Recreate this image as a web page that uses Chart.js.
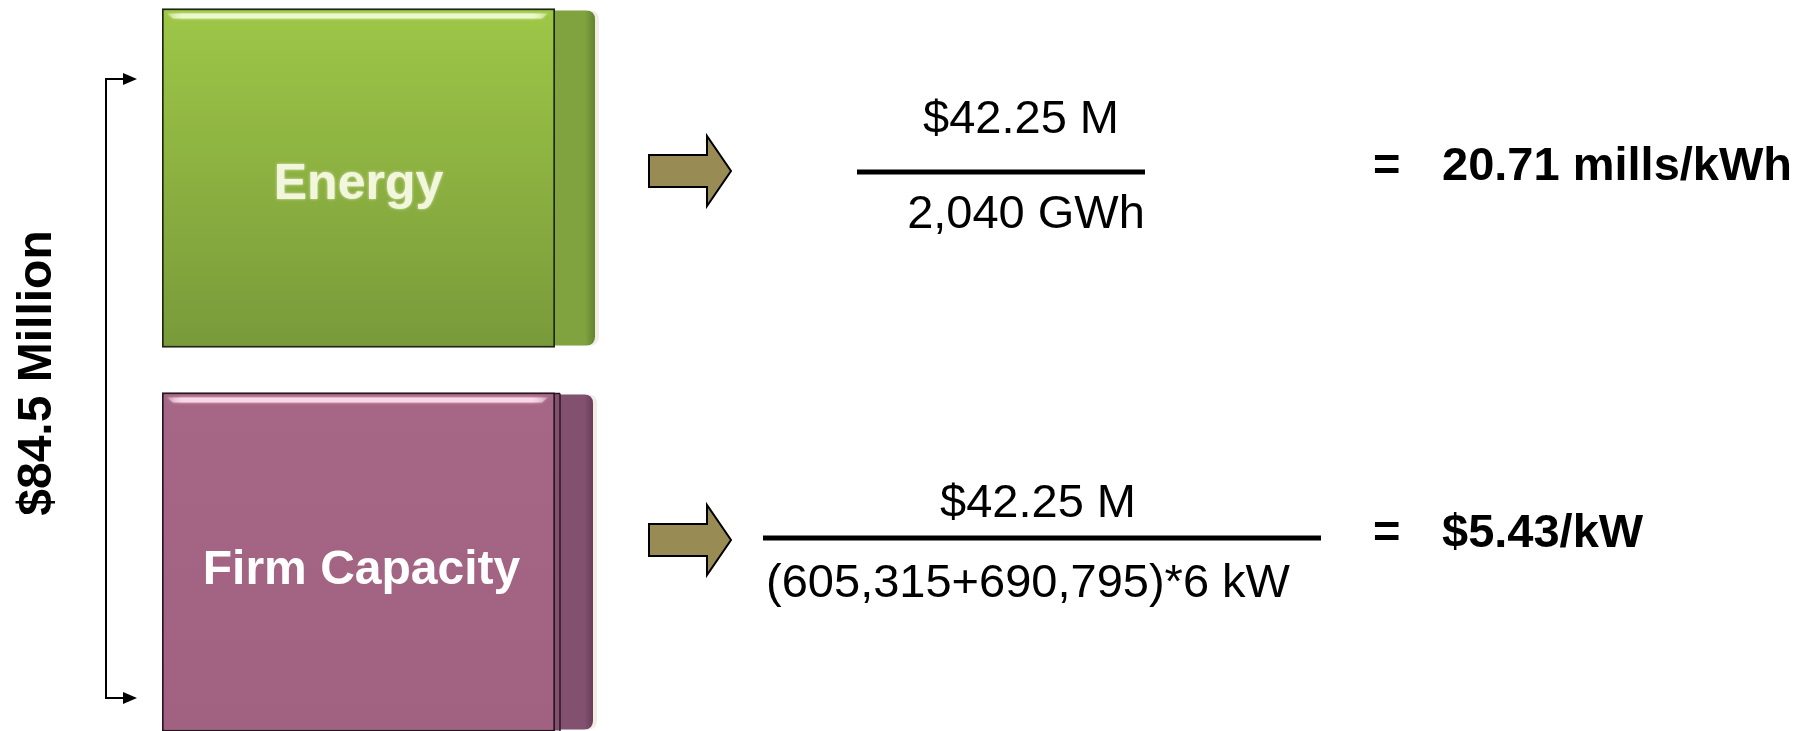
<!DOCTYPE html>
<html>
<head>
<meta charset="utf-8">
<script src="https://cdn.jsdelivr.net/npm/chart.js@4/dist/chart.umd.min.js"></script>
<style>
  html, body { margin: 0; padding: 0; background: #ffffff; overflow: hidden; width: 1812px; height: 731px; }
  #wrap { position: absolute; left: 0; top: -14px; width: 1812px; height: 768px; }
</style>
</head>
<body>
<div id="wrap"><canvas id="c"></canvas></div>
<script>
// Revenue requirement split into its two cost components
const categories = ['Energy', 'Firm Capacity'];
const costMillions = [42.25, 42.25];
const totalMillions = 84.5;

// Billing determinants
const energyGWh = 2040;
const peakKW = [605315, 690795];
const months = 6;

// Resulting unit rates
const unitRates = [20.71, 5.43];

// Text built from the values above
const totalLabel = '$' + totalMillions + ' Million';
const numeratorLabels = costMillions.map(v => '$' + v.toFixed(2) + ' M');
const denominatorLabels = [
  energyGWh.toLocaleString('en-US') + ' GWh',
  '(' + peakKW.map(v => v.toLocaleString('en-US')).join('+') + ')*' + months + ' kW'
];
const resultLabels = [
  unitRates[0].toFixed(2) + ' mills/kWh',
  '$' + unitRates[1].toFixed(2) + '/kW'
];

const SHIFT = 14; // the canvas starts 14px above the page top
const FONT = '"Liberation Sans", Arial, Helvetica, sans-serif';

const boxStyle = [
  { top: '#9ec747', bottom: '#799a3a', sideL: '#80a340', sideR: '#62832d', edge: '#1d2810',
    gloss: '236,249,204', text: '#f2f6dc', depth: 40, doubleEdge: false, textDx: 0, textDy: 21, size: 50 },
  { top: '#a66787', bottom: '#a16181', sideL: '#82516f', sideR: '#6a3c59', edge: '#2a1622',
    gloss: '250,214,232', text: '#ffffff', depth: 38, doubleEdge: true, textDx: 3, textDy: 22, size: 48 }
];

// Page positions for the arrows, fractions and results of each row
const rowLayout = [
  { arrowY: 171, lineX: [857, 1145], lineY: 172, numX: 1021, numY: 133, denX: 1026, denY: 228, resY: 180 },
  { arrowY: 540, lineX: [763, 1321], lineY: 538, numX: 1038, numY: 517, denX: 1028, denY: 597, resY: 547 }
];
const eqX = 1373, resX = 1442;

function frontFill(ctx) {
  const chart = ctx.chart;
  const s = boxStyle[ctx.dataIndex];
  if (!chart.chartArea || !chart.scales.y) return s.bottom;
  const y = chart.scales.y.getPixelForTick(ctx.dataIndex);
  const h = 170;
  const g = chart.ctx.createLinearGradient(0, y - h, 0, y + h);
  g.addColorStop(0, s.top);
  g.addColorStop(1, s.bottom);
  return g;
}

const boxDecor = {
  id: 'boxDecor',
  beforeDatasetsDraw(chart) {
    const ctx = chart.ctx;
    const meta = chart.getDatasetMeta(0);
    meta.data.forEach((el, i) => {
      const s = boxStyle[i];
      const x0 = el.x + (s.doubleEdge ? 5 : 0);
      const x1 = el.x + s.depth;
      const top = el.y - el.height / 2 + 2;
      const bot = el.y + el.height / 2 - 2;
      const r = 9;
      const path = (dx) => {
        ctx.beginPath();
        ctx.moveTo(x0 + dx, top);
        ctx.lineTo(x1 + dx - r, top);
        ctx.quadraticCurveTo(x1 + dx, top, x1 + dx, top + r);
        ctx.lineTo(x1 + dx, bot - r);
        ctx.quadraticCurveTo(x1 + dx, bot, x1 + dx - r, bot);
        ctx.lineTo(x0 + dx, bot);
        ctx.closePath();
      };
      ctx.save();
      // soft drop shadow behind the side face
      path(4);
      ctx.fillStyle = 'rgba(214,204,180,0.35)';
      ctx.fill();
      path(0);
      const g = ctx.createLinearGradient(x0, 0, x1, 0);
      g.addColorStop(0, s.sideL);
      g.addColorStop(0.75, s.sideL);
      g.addColorStop(1, s.sideR);
      ctx.fillStyle = g;
      ctx.fill();
      ctx.restore();
    });
  },
  afterDatasetsDraw(chart) {
    const ctx = chart.ctx;
    const meta = chart.getDatasetMeta(0);
    meta.data.forEach((el, i) => {
      const s = boxStyle[i];
      const top = el.y - el.height / 2;
      ctx.save();
      // glossy strip along the top edge
      const gx0 = el.base + 5, gx1 = el.x - 7;
      const gg = ctx.createLinearGradient(gx0, 0, gx1, 0);
      gg.addColorStop(0, 'rgba(' + s.gloss + ',0.3)');
      gg.addColorStop(0.04, 'rgba(' + s.gloss + ',1)');
      gg.addColorStop(0.96, 'rgba(' + s.gloss + ',1)');
      gg.addColorStop(1, 'rgba(' + s.gloss + ',0.3)');
      ctx.fillStyle = gg;
      ctx.shadowColor = 'rgba(' + s.gloss + ',0.8)';
      ctx.shadowBlur = 3;
      ctx.beginPath();
      ctx.moveTo(gx0, top + 5);
      ctx.lineTo(gx1, top + 5);
      ctx.lineTo(gx1 - 6, top + 10);
      ctx.lineTo(gx0 + 6, top + 10);
      ctx.closePath();
      ctx.fill();
      ctx.shadowBlur = 0;
      ctx.shadowColor = 'transparent';
      // second panel edge on the right of the box
      if (s.doubleEdge) {
        ctx.fillStyle = s.sideL;
        ctx.fillRect(el.x, top + 1, 5, el.height - 2);
        ctx.strokeStyle = s.edge;
        ctx.lineWidth = 1.5;
        ctx.beginPath();
        ctx.moveTo(el.x + 5, top + 1);
        ctx.lineTo(el.x + 5, top + el.height);
        ctx.moveTo(el.x + 5, top + 1);
        ctx.lineTo(el.x, top + 1);
        ctx.stroke();
      }
      // category name
      ctx.font = 'bold ' + s.size + 'px ' + FONT;
      ctx.textAlign = 'center';
      ctx.textBaseline = 'alphabetic';
      if (i === 0) {
        ctx.shadowColor = 'rgba(255,255,235,0.7)';
        ctx.shadowBlur = 3;
      }
      ctx.fillStyle = s.text;
      ctx.fillText(categories[i], (el.x + el.base) / 2 + s.textDx, el.y + s.textDy);
      ctx.restore();
    });

    // Annotations in page coordinates
    ctx.save();
    ctx.translate(0, SHIFT);
    ctx.fillStyle = '#000';
    ctx.strokeStyle = '#000';

    // bracket spanning both components
    ctx.lineWidth = 2;
    ctx.beginPath();
    ctx.moveTo(125, 79); ctx.lineTo(106, 79); ctx.lineTo(106, 698); ctx.lineTo(125, 698);
    ctx.stroke();
    [79, 698].forEach(y => {
      ctx.beginPath();
      ctx.moveTo(123, y - 6); ctx.lineTo(137, y); ctx.lineTo(123, y + 6);
      ctx.closePath();
      ctx.fill();
    });

    // total, written upward
    ctx.save();
    ctx.translate(51, 373);
    ctx.rotate(-Math.PI / 2);
    ctx.font = 'bold 48px ' + FONT;
    ctx.textAlign = 'center';
    ctx.textBaseline = 'alphabetic';
    ctx.fillText(totalLabel, 0, 0);
    ctx.restore();

    rowLayout.forEach((L, i) => {
      // block arrow
      const cy = L.arrowY;
      ctx.beginPath();
      ctx.moveTo(649, cy - 16);
      ctx.lineTo(707, cy - 16);
      ctx.lineTo(707, cy - 35);
      ctx.lineTo(731, cy);
      ctx.lineTo(707, cy + 35);
      ctx.lineTo(707, cy + 16);
      ctx.lineTo(649, cy + 16);
      ctx.closePath();
      ctx.fillStyle = '#988c54';
      ctx.fill();
      ctx.lineWidth = 2;
      ctx.strokeStyle = '#000';
      ctx.stroke();

      // fraction
      ctx.fillStyle = '#000';
      ctx.fillRect(L.lineX[0], L.lineY - 2.5, L.lineX[1] - L.lineX[0], 5);
      ctx.font = '47px ' + FONT;
      ctx.textAlign = 'center';
      ctx.textBaseline = 'alphabetic';
      ctx.fillText(numeratorLabels[i], L.numX, L.numY);
      ctx.fillText(denominatorLabels[i], L.denX, L.denY);

      // result
      ctx.font = 'bold 47px ' + FONT;
      ctx.textAlign = 'left';
      ctx.fillText('=', eqX, L.resY);
      ctx.fillText(resultLabels[i], resX, L.resY);
    });
    ctx.restore();
  }
};

new Chart(document.getElementById('c'), {
  type: 'bar',
  data: {
    labels: categories,
    datasets: [{
      data: costMillions,
      backgroundColor: frontFill,
      borderColor: boxStyle.map(s => s.edge),
      borderWidth: 2,
      borderSkipped: false,
      barThickness: 339
    }]
  },
  options: {
    indexAxis: 'y',
    responsive: true,
    maintainAspectRatio: false,
    devicePixelRatio: 1,
    animation: false,
    layout: { padding: { left: 162, right: 1257, top: 0, bottom: 0 } },
    scales: {
      x: { type: 'linear', min: 0, max: costMillions[0], display: false },
      y: { type: 'category', display: false, offset: true }
    },
    plugins: {
      legend: { display: false },
      tooltip: { enabled: false }
    }
  },
  plugins: [boxDecor]
});
</script>
</body>
</html>
